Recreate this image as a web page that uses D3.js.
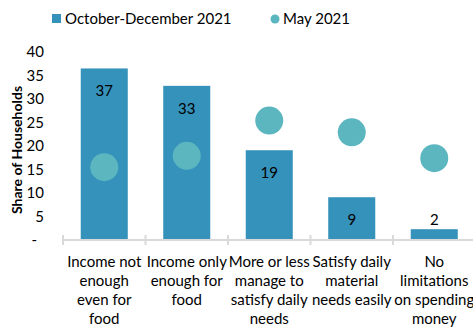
<!DOCTYPE html>
<html>
<head>
<meta charset="utf-8">
<script src="https://cdn.jsdelivr.net/npm/d3@7"></script>
<style>
  body { margin: 0; background: #fff; }
  svg { display: block; font-family: Lato, "Liberation Sans", Arial, sans-serif; }
</style>
</head>
<body>
<svg id="chart" width="473" height="327"></svg>
<script>
const categories = [
    ["Income not", "enough", "even for", "food"],
    ["Income only", "enough for", "food"],
    ["More or less", "manage to", "satisfy daily", "needs"],
    ["Satisfy daily", "material", "needs easily"],
    ["No", "limitations", "on spending", "money"]
];
const octDec2021 = [36.5, 32.8, 19.1, 9.1, 2.3];
const may2021 = [15.5, 17.9, 25.4, 22.9, 17.4];
const yTicks = [0, 5, 10, 15, 20, 25, 30, 35, 40];
const seriesNames = ["October-December 2021", "May 2021"];

const barColor = "#3592ba";
const dotColor = "#5bb6bf";
const axisColor = "#d9d9d9";
const fontSize = 15;

const svg = d3.select("#chart");

const x = d3.scaleBand()
    .domain(d3.range(categories.length))
    .range([63, 475.5])
    .paddingInner(0.43)
    .paddingOuter(0.215);

const y = d3.scaleLinear().domain([0, 40]).range([240, 52]);

// y tick labels (no axis line)
const yAxis = svg.append("g")
    .attr("transform", "translate(44,0)")
    .call(d3.axisLeft(y).tickValues(yTicks).tickSize(0).tickPadding(0)
        .tickFormat(d => d === 0 ? "-" : d));
yAxis.select(".domain").remove();
yAxis.selectAll("text")
    .attr("font-size", fontSize)
    .attr("font-family", "Lato, Liberation Sans, Arial, sans-serif")
    .attr("fill", "#000")
    .attr("dx", d => d === 0 ? -7 : 0);

svg.append("text")
    .attr("transform", "translate(22,150) rotate(-90)")
    .attr("text-anchor", "middle")
    .attr("font-size", 14)
    .attr("font-weight", "bold")
    .text("Share of Households");

// bars
svg.append("g")
    .selectAll("rect")
    .data(octDec2021)
    .join("rect")
    .attr("x", (d, i) => x(i))
    .attr("y", d => y(d))
    .attr("width", x.bandwidth())
    .attr("height", d => y(0) - y(d))
    .attr("fill", barColor);

// x axis line with boundary ticks
const step = x.step();
const xAxis = svg.append("g").attr("stroke", axisColor).attr("stroke-width", 2);
xAxis.append("line")
    .attr("x1", 63).attr("x2", 475.5)
    .attr("y1", y(0)).attr("y2", y(0));
xAxis.selectAll(".tick")
    .data(d3.range(categories.length))
    .join("line")
    .attr("x1", i => x(i) - step * 0.215)
    .attr("x2", i => x(i) - step * 0.215)
    .attr("y1", y(0) - 5)
    .attr("y2", y(0) + 5);

// data labels
svg.append("g")
    .selectAll("text")
    .data(octDec2021)
    .join("text")
    .attr("x", (d, i) => x(i) + x.bandwidth() / 2)
    .attr("y", d => (y(0) - y(d)) > 30 ? y(d) + 28 : y(d) - 4)
    .attr("text-anchor", "middle")
    .attr("font-size", fontSize)
    .attr("fill", "#000")
    .text(d => Math.round(d));

// May 2021 dots
svg.append("g")
    .selectAll("circle")
    .data(may2021)
    .join("circle")
    .attr("cx", (d, i) => x(i) + x.bandwidth() / 2)
    .attr("cy", d => y(d))
    .attr("r", 14)
    .attr("fill", dotColor);

// category labels
svg.append("g")
    .selectAll("text")
    .data(categories)
    .join("text")
    .attr("x", (d, i) => x(i) + x.bandwidth() / 2)
    .attr("y", 267)
    .attr("text-anchor", "middle")
    .attr("font-size", fontSize)
    .attr("fill", "#000")
    .selectAll("tspan")
    .data(d => d)
    .join("tspan")
    .attr("x", function () { return d3.select(this.parentNode).attr("x"); })
    .attr("dy", (d, i) => i === 0 ? 0 : 19)
    .text(d => d);

// legend
const legend = svg.append("g");
legend.append("rect")
    .attr("x", 52).attr("y", 14).attr("width", 9).attr("height", 9)
    .attr("fill", barColor);
legend.append("text")
    .attr("x", 65).attr("y", 24)
    .attr("font-size", fontSize)
    .text(seriesNames[0]);
legend.append("circle")
    .attr("cx", 275).attr("cy", 19).attr("r", 4.5)
    .attr("fill", dotColor);
legend.append("text")
    .attr("x", 283).attr("y", 24)
    .attr("font-size", fontSize)
    .text(seriesNames[1]);
</script>
</body>
</html>
